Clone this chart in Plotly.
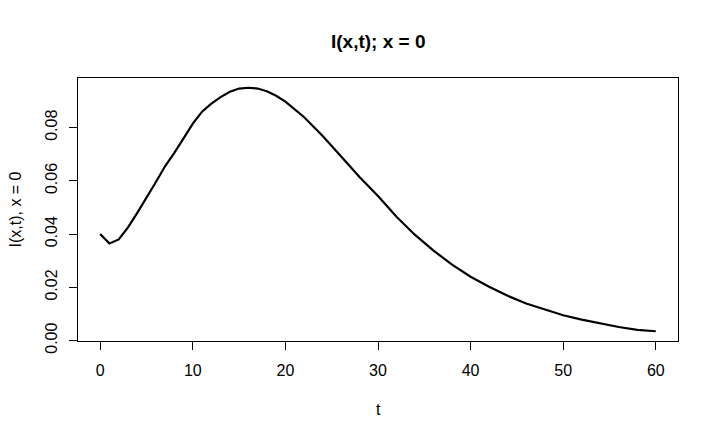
"""I(x,t) at x = 0, redrawn in the style of an R base plot."""

import plotly.graph_objects as go

# time points and values
t_vals = [0, 1, 2, 3, 4, 5, 6, 7, 8, 9, 10, 11, 12, 13, 14, 15, 16, 17, 18,
          19, 20, 22, 24, 26, 28, 30, 32, 34, 36, 38, 40, 42, 44, 46, 48, 50,
          52, 54, 56, 58, 60]
i_vals = [0.0400, 0.0365, 0.0380, 0.0425, 0.0480, 0.0535, 0.0595, 0.0655,
          0.0705, 0.0760, 0.0815, 0.0860, 0.0890, 0.0915, 0.0935, 0.0947,
          0.0950, 0.0947, 0.0937, 0.0920, 0.0898, 0.0840, 0.0770, 0.0693,
          0.0615, 0.0543, 0.0465, 0.0397, 0.0338, 0.0285, 0.0240, 0.0202,
          0.0168, 0.0139, 0.0117, 0.0095, 0.0079, 0.0064, 0.0051, 0.0040,
          0.0035]

x_ticks = [0, 10, 20, 30, 40, 50, 60]
y_ticks = [0.00, 0.02, 0.04, 0.06, 0.08]
y_tick_text = ["0.00", "0.02", "0.04", "0.06", "0.08"]

FONT = "Liberation Sans, Arial, sans-serif"

fig = go.Figure()
fig.add_trace(
    go.Scatter(
        x=t_vals,
        y=i_vals,
        mode="lines",
        line=dict(color="black", width=2.2),
        showlegend=False,
        hoverinfo="skip",
    )
)

# R pads the data range by 4% on each side
y_lo, y_hi = min(i_vals), max(i_vals)
y_pad = 0.04 * (y_hi - y_lo)
x_pad = 0.04 * (max(t_vals) - min(t_vals))

axis_common = dict(
    showgrid=False,
    zeroline=False,
    showline=True,
    mirror=True,
    linecolor="black",
    linewidth=1,
    ticks="outside",
    ticklen=8,
    tickwidth=1,
    tickcolor="black",
    tickfont=dict(family=FONT, size=16, color="black"),
)

fig.update_xaxes(
    range=[min(t_vals) - x_pad, max(t_vals) + x_pad],
    tickvals=x_ticks,
    ticklabelstandoff=7,
    **axis_common,
)
fig.update_yaxes(
    range=[y_lo - y_pad, y_hi + y_pad],
    tickvals=y_ticks,
    ticktext=y_tick_text,
    tickangle=-90,
    ticklabelstandoff=6,
    **axis_common,
)

# the page body adds an 8px offset, so the figure is 8px smaller
fig.update_layout(
    width=711,
    height=431,
    margin=dict(l=70, r=41, t=70, b=98),
    paper_bgcolor="white",
    plot_bgcolor="white",
    font=dict(family=FONT, color="black"),
    annotations=[
        dict(
            text="<b>I(x,t); x = 0</b>",
            xref="paper", yref="paper", x=0.5, y=1,
            yshift=37, showarrow=False,
            xanchor="center", yanchor="middle",
            font=dict(family=FONT, size=19, color="black"),
        ),
        dict(
            text="t",
            xref="paper", yref="paper", x=0.5, y=0,
            yshift=-68, showarrow=False,
            xanchor="center", yanchor="middle",
            font=dict(family=FONT, size=16, color="black"),
        ),
        dict(
            text="I(x,t), x = 0",
            xref="paper", yref="paper", x=0, y=0.5,
            xshift=-63, textangle=-90, showarrow=False,
            xanchor="center", yanchor="middle",
            font=dict(family=FONT, size=16, color="black"),
        ),
    ],
)

fig.write_html("out.html")
